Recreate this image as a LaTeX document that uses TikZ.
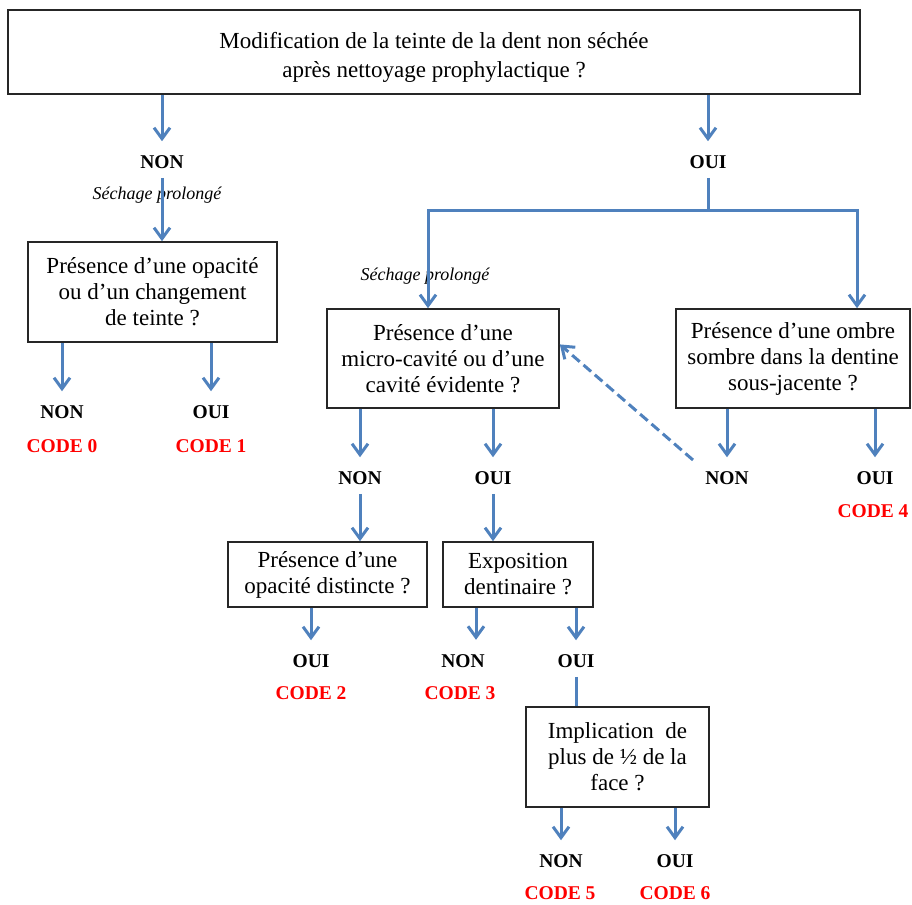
\documentclass[tikz,border=0pt]{standalone}
\usepackage{fontspec}
\setmainfont{Liberation Serif}
\usetikzlibrary{arrows.meta,calc}
\definecolor{lineblue}{RGB}{79,129,189}
\definecolor{codered}{RGB}{255,0,0}
\begin{document}
\begin{tikzpicture}[x=1pt,y=-1pt,
 box/.style={draw=black!85,line width=1.6pt,rectangle,align=center,font=\fontsize{23}{26}\selectfont,inner sep=0pt},
 lab/.style={font=\fontsize{19.5}{22}\selectfont\bfseries,inner sep=0pt},
 code/.style={lab,text=codered},
 note/.style={font=\fontsize{18}{20}\selectfont\itshape,inner sep=0pt},
 arr/.style={draw=lineblue,line width=3pt,-{Straight Barb[length=11pt,width=16pt]}},
 tolab/.style={arr,shorten >=14pt},
 conn/.style={draw=lineblue,line width=3pt},
 dasharr/.style={arr,dash pattern=on 10pt off 5pt}
]
\useasboundingbox (0,0) rectangle (912,904);

% boxes
\node[box,minimum width=852pt,minimum height=84pt] (top) at (434,52) {};
\node[align=center,inner sep=0pt,font=\fontsize{23}{29}\selectfont] (toptxt) at (434,57)
  {Modification de la teinte de la dent non séchée\\après nettoyage prophylactique ?};
\node[box,minimum width=249pt,minimum height=100pt] (lbox) at (152.5,292)
  {Présence d’une opacité\\ou d’un changement\\de teinte ?};
\node[box,minimum width=232pt,minimum height=99pt] (mbox) at (443,358.5)
  {Présence d’une\\micro-cavité ou d’une\\cavité évidente ?};
\node[box,minimum width=234pt,minimum height=99pt] (rbox) at (793,358.5)
  {Présence d’une ombre\\sombre dans la dentine\\sous-jacente ?};
\node[box,minimum width=199pt,minimum height=65pt] (obox) at (327.5,574.5)
  {Présence d’une\\opacité distincte ?};
\node[box,minimum width=150pt,minimum height=65pt] (ebox) at (518,574.5)
  {Exposition\\dentinaire ?};
\node[box,minimum width=183pt,minimum height=100pt] (ibox) at (617.5,757)
  {Implication\ \ de\\plus de ½ de la\\face ?};

% labels
\node[lab] (non1) at (162,162) {NON};
\node[lab] (oui1) at (708,162) {OUI};
\node[note] (sp1) at (157,195) {Séchage prolongé};
\node[note] (sp2) at (425,276) {Séchage prolongé};
\node[lab] (ln) at (62,412) {NON};
\node[code] (lc0) at (62,446) {CODE 0};
\node[lab] (lo) at (211,412) {OUI};
\node[code] (lc1) at (211,446) {CODE 1};
\node[lab] (mn) at (360,478) {NON};
\node[lab] (mo) at (493,478) {OUI};
\node[lab] (rn) at (727,478) {NON};
\node[lab] (ro) at (875,478) {OUI};
\node[code] (rc4) at (873,511) {CODE 4};
\node[lab] (oo) at (311,661) {OUI};
\node[code] (oc2) at (311,693) {CODE 2};
\node[lab] (en) at (463,661) {NON};
\node[code] (ec3) at (460,693) {CODE 3};
\node[lab] (eo) at (576,661) {OUI};
\node[lab] (inn) at (561,861) {NON};
\node[code] (ic5) at (560,893) {CODE 5};
\node[lab] (io) at (675,861) {OUI};
\node[code] (ic6) at (675,893) {CODE 6};

% connectors
\draw[tolab] (top.south -| non1) -- (non1.north);
\draw[tolab] (top.south -| oui1) -- (oui1.north);
\draw[arr,shorten <=9pt] (non1.south) -- (lbox.north -| non1.south);

\coordinate (jm) at (708,210);
\coordinate (jl) at (428,210);
\coordinate (jr) at (857,210);
\draw[conn,shorten <=9pt] (oui1.south) -- (jm);
\draw[arr] (jm) -- (jl) -- (jl |- mbox.north);
\draw[arr] (jm) -- (jr) -- (jr |- rbox.north);

\draw[tolab] (lbox.south -| ln) -- (ln.north);
\draw[tolab] (lbox.south -| lo) -- (lo.north);

\draw[tolab] (mbox.south -| mn) -- (mn.north);
\draw[tolab] (mbox.south -| mo) -- (mo.north);
\draw[tolab] (rbox.south -| rn) -- (rn.north);
\draw[tolab] (rbox.south -| ro) -- (ro.north);

\coordinate (dstart) at (693,460);
\draw[dasharr] (dstart) -- ($(mbox.north east)!0.36!(mbox.south east)$);

\draw[arr,shorten <=9pt] (mn.south) -- (obox.north -| mn.south);
\draw[arr,shorten <=9pt] (mo.south) -- (ebox.north -| mo.south);

\draw[tolab] (obox.south -| oo) -- (oo.north);
\draw[tolab] ([xshift=-42pt]ebox.south) -- ++(0,46);
\draw[tolab] ([xshift=58pt]ebox.south) -- (ebox.south -| eo) -- (eo.north);
\draw[conn,shorten <=9pt] (eo.south) -- (ibox.north -| eo.south);

\draw[tolab] (ibox.south -| inn) -- (inn.north);
\draw[tolab] (ibox.south -| io) -- (io.north);
\end{tikzpicture}
\end{document}
